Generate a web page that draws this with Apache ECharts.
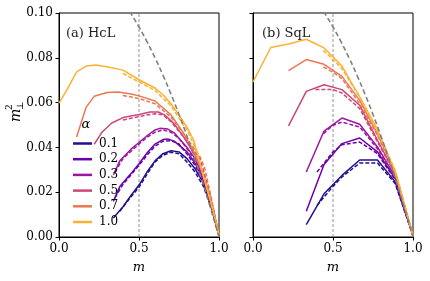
<!DOCTYPE html>
<html><head><meta charset="utf-8">
<script src="https://cdn.jsdelivr.net/npm/echarts@6/dist/echarts.min.js"></script>
<style>html,body{margin:0;padding:0;background:#fff}#c{width:430px;height:281px}</style>
</head><body><div id="c"></div>
<script>
const alphas = ['0.1','0.2','0.3','0.5','0.7','1.0'];
const colors = ['#22108e','#6a00a8','#9c179e','#cc4778','#ec7853','#fdb130'];
const xTicks = ['0.0','0.5','1.0'];
const yTicks = ['0.00','0.02','0.04','0.06','0.08','0.10'];

// (a) HcL, solid lines: [m, m_perp^2]
const hclSolid01 = [[0.34,0.0085],[0.4,0.0135],[0.45,0.0185],[0.5,0.0232],[0.55,0.029],[0.6,0.034],[0.65,0.0372],[0.7,0.0385],[0.75,0.038],[0.8,0.035],[0.85,0.0305],[0.9,0.0245],[0.95,0.014],[1.0,0.0008]];
const hclSolid02 = [[0.34,0.0159],[0.38,0.0225],[0.45,0.0283],[0.5,0.0327],[0.55,0.0375],[0.6,0.0415],[0.65,0.0435],[0.68,0.0438],[0.72,0.0428],[0.8,0.038],[0.85,0.033],[0.9,0.026],[0.95,0.015],[1.0,0.0008]];
const hclSolid03 = [[0.34,0.0278],[0.38,0.034],[0.45,0.0392],[0.5,0.0422],[0.55,0.0452],[0.6,0.0478],[0.63,0.0485],[0.68,0.0482],[0.72,0.0465],[0.8,0.04],[0.85,0.035],[0.9,0.0268],[0.95,0.0156],[1.0,0.0008]];
const hclSolid05 = [[0.22,0.0414],[0.27,0.0469],[0.33,0.0509],[0.4,0.0533],[0.5,0.0547],[0.57,0.0558],[0.62,0.0558],[0.66,0.0545],[0.72,0.0505],[0.78,0.0446],[0.85,0.0365],[0.9,0.0283],[0.95,0.0164],[1.0,0.0008]];
const hclSolid07 = [[0.11,0.0446],[0.17,0.058],[0.22,0.0628],[0.3,0.0645],[0.37,0.0647],[0.45,0.0638],[0.5,0.063],[0.6,0.0607],[0.7,0.0545],[0.78,0.0462],[0.85,0.0372],[0.9,0.0283],[0.95,0.0164],[1.0,0.0008]];
const hclSolid10 = [[0,0.0598],[0.05,0.0658],[0.11,0.0737],[0.17,0.0763],[0.23,0.0768],[0.3,0.076],[0.4,0.0745],[0.5,0.0702],[0.6,0.0665],[0.65,0.0635],[0.7,0.0595],[0.75,0.0545],[0.8,0.049],[0.84,0.0435],[0.87,0.036],[0.9,0.0275],[0.95,0.015],[1.0,0.0015]];
// (a) HcL, dashed lines
const hclDash01 = [[0.38,0.0115],[0.45,0.018],[0.5,0.0222],[0.55,0.028],[0.6,0.0335],[0.65,0.0365],[0.7,0.0378],[0.75,0.0372],[0.8,0.0335],[0.85,0.029],[0.9,0.023],[0.95,0.0135],[1.0,0.0005]];
const hclDash02 = [[0.35,0.0175],[0.4,0.0235],[0.5,0.032],[0.55,0.0365],[0.6,0.0405],[0.65,0.0428],[0.7,0.043],[0.75,0.0415],[0.8,0.037],[0.85,0.032],[0.9,0.025],[0.95,0.0145],[1.0,0.0005]];
const hclDash03 = [[0.35,0.029],[0.4,0.035],[0.5,0.0415],[0.55,0.0445],[0.6,0.0468],[0.65,0.0478],[0.7,0.0468],[0.75,0.044],[0.8,0.0395],[0.85,0.034],[0.9,0.026],[0.95,0.015],[1.0,0.0005]];
const hclDash05 = [[0.4,0.0522],[0.45,0.053],[0.5,0.0537],[0.55,0.0545],[0.6,0.055],[0.65,0.0545],[0.7,0.0515],[0.78,0.0445],[0.85,0.038],[0.88,0.035],[0.9,0.0305],[0.95,0.0175],[1.0,0.0005]];
const hclDash07 = [[0.4,0.0632],[0.5,0.0618],[0.6,0.0595],[0.7,0.0535],[0.78,0.046],[0.85,0.039],[0.88,0.036],[0.91,0.031],[0.95,0.018],[1.0,0.0005]];
const hclDash10 = [[0.4,0.073],[0.5,0.0692],[0.6,0.0655],[0.7,0.0585],[0.8,0.0478],[0.85,0.04],[0.9,0.0285],[0.95,0.0155],[1.0,0.0005]];

// (b) SqL, solid lines on grid m = k/9
const sqlM = [0,0.111,0.222,0.333,0.444,0.556,0.667,0.778,0.889,1.0];
const sqlSolid01 = [null,null,null,0.0055,0.0193,0.0275,0.0344,0.0344,0.0246,0.0007];
const sqlSolid02 = [null,null,null,0.0115,0.0324,0.0417,0.0442,0.038,0.026,0.0007];
const sqlSolid03 = [null,null,null,0.029,0.0473,0.0531,0.0503,0.0402,0.0268,0.0007];
const sqlSolid05 = [null,null,0.0496,0.065,0.068,0.0658,0.0588,0.0432,0.0283,0.0007];
const sqlSolid07 = [null,null,0.0743,0.0792,0.0771,0.0717,0.061,0.046,0.029,0.0007];
const sqlSolid10 = [0.0692,0.0846,0.0862,0.0883,0.0844,0.0763,0.0625,0.048,0.029,0.0007];
// (b) SqL, dashed lines
const sqlDash01 = [[0.4,0.0141],[0.5,0.0226],[0.556,0.0268],[0.667,0.033],[0.778,0.033],[0.889,0.0238],[1.0,0.0005]];
const sqlDash02 = [[0.4,0.029],[0.5,0.038],[0.556,0.0412],[0.667,0.0424],[0.778,0.0372],[0.889,0.0255],[1.0,0.0005]];
const sqlDash03 = [[0.44,0.0461],[0.5,0.0499],[0.556,0.0513],[0.667,0.0491],[0.778,0.0394],[0.889,0.0265],[1.0,0.0005]];
const sqlDash05 = [[0.39,0.0658],[0.5,0.0658],[0.556,0.0643],[0.667,0.0573],[0.778,0.0424],[0.889,0.028],[1.0,0.0005]];
const sqlDash07 = [[0.44,0.0759],[0.5,0.0735],[0.556,0.0707],[0.667,0.0595],[0.778,0.0454],[0.889,0.0285],[1.0,0.0005]];
const sqlDash10 = [[0.44,0.0833],[0.5,0.0792],[0.556,0.0751],[0.667,0.0625],[0.778,0.0469],[0.889,0.0298],[1.0,0.0005]];

// gray dashed boundary curve
const boundM = [0.44,0.45,0.5,0.55,0.6,0.65,0.7,0.75,0.8,0.85,0.9,0.95,1.0];
const boundV = [0.1008,0.0997,0.09375,0.0872,0.08,0.0722,0.06375,0.0547,0.045,0.0347,0.02375,0.0122,0];
// vertical reference at m = 0.5
const refLineM = [0.5,0.5];
const refLineV = [0,0.1];

const hclSolid = [hclSolid01,hclSolid02,hclSolid03,hclSolid05,hclSolid07,hclSolid10];
const hclDash = [hclDash01,hclDash02,hclDash03,hclDash05,hclDash07,hclDash10];
const sqlSolid = [sqlSolid01,sqlSolid02,sqlSolid03,sqlSolid05,sqlSolid07,sqlSolid10];
const sqlDash = [sqlDash01,sqlDash02,sqlDash03,sqlDash05,sqlDash07,sqlDash10];

const FONT = 'DejaVu Serif';
const series = [];
function zip(a,b){ const out=[]; for(let i=0;i<a.length;i++){ if(b[i]!=null) out.push([a[i],b[i]]);} return out; }
for (let g=0; g<2; g++){
  series.push({type:'line', xAxisIndex:g, yAxisIndex:g, data:zip(refLineM,refLineV), showSymbol:false, silent:true,
    lineStyle:{color:'#888', width:0.9, type:[3,2]}, z:1});
}
for (let i=0;i<alphas.length;i++){
  series.push({name:alphas[i], type:'line', xAxisIndex:0, yAxisIndex:0, data:hclSolid[i], showSymbol:false, symbol:'none',
    lineStyle:{color:colors[i], width:1.5}, itemStyle:{color:colors[i]}, z:2});
  series.push({name:alphas[i]+' dashed', type:'line', xAxisIndex:0, yAxisIndex:0, data:hclDash[i], showSymbol:false, symbol:'none',
    lineStyle:{color:colors[i], width:1.5, type:[4,2]}, itemStyle:{color:colors[i]}, z:2});
  series.push({name:alphas[i], type:'line', xAxisIndex:1, yAxisIndex:1, data:zip(sqlM,sqlSolid[i]), showSymbol:false, symbol:'none',
    lineStyle:{color:colors[i], width:1.5}, itemStyle:{color:colors[i]}, z:2});
  series.push({name:alphas[i]+' dashed', type:'line', xAxisIndex:1, yAxisIndex:1, data:sqlDash[i], showSymbol:false, symbol:'none',
    lineStyle:{color:colors[i], width:1.5, type:[4,2]}, itemStyle:{color:colors[i]}, z:2});
}
for (let g=0; g<2; g++){
  series.push({type:'line', xAxisIndex:g, yAxisIndex:g, data:zip(boundM,boundV), showSymbol:false, silent:true, smooth:true,
    lineStyle:{color:'#808080', width:1.6, type:[5,3]}, z:3});
}

function xAxis(g){
  return {gridIndex:g, type:'value', min:0, max:1, interval:0.5,
    axisLine:{show:true, onZero:false, lineStyle:{color:'#000', width:1}},
    axisTick:{show:true, inside:false, length:3.5, lineStyle:{color:'#000'}},
    axisLabel:{color:'#000', fontFamily:FONT, fontSize:12, margin:6, formatter:(v)=>xTicks[Math.round(v*2)]},
    splitLine:{show:false},
    name:'m', nameLocation:'middle', nameGap:24,
    nameTextStyle:{color:'#000', fontFamily:FONT, fontStyle:'italic', fontSize:13}};
}
function yAxis(g){
  return {gridIndex:g, type:'value', min:0, max:0.1, interval:0.02,
    axisLine:{show:true, onZero:false, lineStyle:{color:'#000', width:1}},
    axisTick:{show:true, inside:false, length:3.5, lineStyle:{color:'#000'}},
    axisLabel:{show:g===0, color:'#000', fontFamily:FONT, fontSize:12, margin:6, formatter:(v)=>yTicks[Math.round(v*50)]},
    splitLine:{show:false}};
}

const chart = echarts.init(document.getElementById('c'), null, {renderer:'canvas'});
chart.setOption({
  animation:false,
  backgroundColor:'#fff',
  grid:[
    {left:59, top:13, width:160, height:224, show:true, borderColor:'#000', borderWidth:1, backgroundColor:'transparent'},
    {left:253, top:13, width:160, height:224, show:true, borderColor:'#000', borderWidth:1, backgroundColor:'transparent'}
  ],
  xAxis:[xAxis(0), xAxis(1)],
  yAxis:[yAxis(0), yAxis(1)],
  legend:{data:alphas, orient:'vertical', left:68, top:132.5, itemWidth:19, itemHeight:2.5, icon:'rect', itemGap:3.7,
    textStyle:{color:'#000', fontFamily:FONT, fontSize:12, lineHeight:12, padding:[0,0,0,2]}, selectedMode:false},
  graphic:[
    {type:'text', left:66, top:27, style:{text:'(a) HcL', font:'13px "DejaVu Serif"', fill:'#222'}},
    {type:'text', left:262, top:27, style:{text:'(b) SqL', font:'13px "DejaVu Serif"', fill:'#222'}},
    {type:'text', x:86, y:125, style:{text:'α', font:'italic 13px "DejaVu Serif"', fill:'#000', textAlign:'center', textVerticalAlign:'middle'}},
    {type:'group', x:16, y:122, rotation:Math.PI/2, children:[
      {type:'text', x:0, y:0, style:{text:'m', font:'italic 14px "DejaVu Serif"', fill:'#000', textVerticalAlign:'middle'}},
      {type:'text', x:12, y:-6, style:{text:'2', font:'9px "DejaVu Serif"', fill:'#000', textVerticalAlign:'middle'}},
      {type:'text', x:12, y:5, style:{text:'⊥', font:'9px "DejaVu Serif"', fill:'#000', textVerticalAlign:'middle'}}
    ]}
  ],
  series:series
});
</script></body></html>
